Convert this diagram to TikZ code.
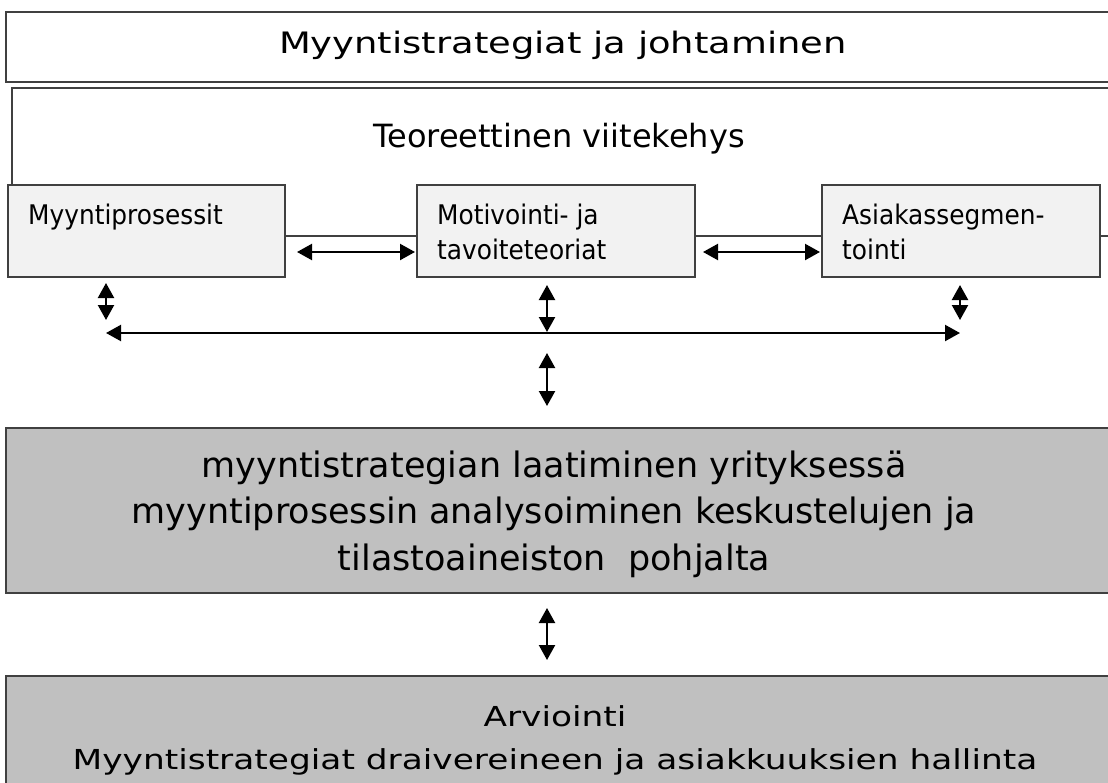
\documentclass[tikz,border=0pt]{standalone}
\usepackage{fontspec}
\setmainfont{DejaVu Sans}
\newfontfamily\widefont[FakeStretch=1.25]{DejaVu Sans}
\newfontfamily\narrowfont[FakeStretch=0.92]{DejaVu Sans}
\usetikzlibrary{arrows.meta}
\definecolor{topicgray}{HTML}{F2F2F2}
\definecolor{stagegray}{HTML}{C0C0C0}
\definecolor{edgegray}{HTML}{404040}

\begin{document}
\begin{tikzpicture}
      [
        x=1pt, y=-1pt,
        FrameBox/.style={draw=edgegray, line width=1.5pt, anchor=north west, inner sep=0pt, outer sep=0pt},
        TopicBox/.style={FrameBox, line width=1.2pt, fill=topicgray, minimum width=278pt, minimum height=92pt},
        StageBox/.style={FrameBox, fill=stagegray, minimum width=1114pt},
        TopicText/.style={anchor=north west, inner sep=0pt, align=left, font=\narrowfont\fontsize{27}{35}\selectfont},
        TwoWay/.style={{Triangle[length=15pt,width=16pt]}-{Triangle[length=15pt,width=16pt]}, line width=2.2pt},
      ]
      \useasboundingbox (0,0) rectangle (1108,782);
      \clip (0,0) rectangle (1108,782);

      \node [FrameBox, minimum width=1114pt, minimum height=70pt] (strategy) at (6,12) {};
      \node [anchor=base, font=\widefont\fontsize{29.5}{35}\selectfont] (strategytext) at (563,53) {Myyntistrategiat ja johtaminen};

      \node [FrameBox, line width=1.2pt, minimum width=1108pt, minimum height=148pt] (theory) at (12,88) {};
      \node [anchor=base, font=\fontsize{32}{38}\selectfont] (theorytext) at (559,147) {Teoreettinen viitekehys};

      \node [TopicBox, minimum width=277pt] (sales) at (8,185) {};
      \node [TopicBox] (motive) at (417,185) {};
      \node [TopicBox] (segment) at (822,185) {};
      \node [TopicText] (salestext) at ([shift={(20pt,-19pt)}]sales.north west) {Myyntiprosessit};
      \node [TopicText] (motivetext) at ([shift={(20pt,-19pt)}]motive.north west) {Motivointi- ja\\tavoiteteoriat};
      \node [TopicText] (segmenttext) at ([shift={(20pt,-19pt)}]segment.north west) {Asiakassegmen-\\tointi};

      \draw [TwoWay] ([shift={(12pt,25pt)}]sales.south east) -- ([shift={(-2pt,25pt)}]motive.south west);
      \draw [TwoWay] ([shift={(8pt,25pt)}]motive.south east) -- ([shift={(-2pt,25pt)}]segment.south west);

      % common line below the topics
      \coordinate (busleft) at (106,333);
      \coordinate (busright) at (960,333);
      \coordinate (hub) at (547,333);
      \draw [TwoWay] (busleft) -- (busright);
      \draw [TwoWay] ([yshift=-6pt]sales.south west -| busleft) -- ++(0,37);
      \draw [TwoWay] ([yshift=-8pt]motive.south -| hub) -- ([yshift=1pt]hub);
      \draw [TwoWay] ([yshift=-8pt]segment.south -| busright) -- ++(0,35);

      \node [StageBox, minimum height=165pt] (analysis) at (6,428) {};
      \node [align=center, font=\fontsize{35}{46.5}\selectfont] (analysistext) at (554,514) {myyntistrategian laatiminen yrityksessä\\myyntiprosessin analysoiminen keskustelujen ja\\tilastoaineiston\ \ pohjalta};
      \draw [TwoWay] ([yshift=-20pt]hub) -- ([yshift=22pt]analysis.north -| hub);

      \node [StageBox, minimum height=130pt] (review) at (6,676) {};
      \node [align=center, font=\widefont\fontsize{27.5}{43}\selectfont] (reviewtext) at (555,740) {Arviointi\\Myyntistrategiat draivereineen ja asiakkuuksien hallinta};
      \draw [TwoWay] ([yshift=-15pt]analysis.south -| hub) -- ([yshift=16pt]review.north -| hub);
\end{tikzpicture}
\end{document}
